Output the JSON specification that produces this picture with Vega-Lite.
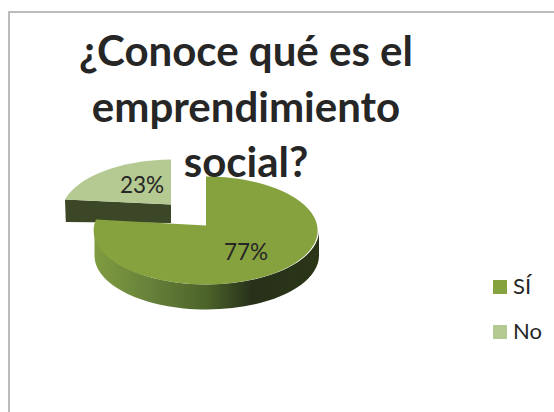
{
"$schema":"https://vega.github.io/schema/vega-lite/v6.json",
"width":560,"height":420,
"autosize":{"type":"none"},
"padding":{"left":9,"top":12,"right":-15,"bottom":-20},
"background":"white",
"view":{"stroke":"#a6a6a6","strokeWidth":1.5,"fill":"white"},
"title":{"text":["¿Conoce qué es el","emprendimiento","social?"],"font":"Lato","fontWeight":"bold","fontSize":42,"lineHeight":55.5,"color":"#262626","anchor":"middle","frame":"group","orient":"top","baseline":"top","offset":-174,"dx":-43},
"data":{"values":[{"category":"SÍ","value":0.77},{"category":"No","value":0.23}]},
"config":{"font":"Lato"},
"layer":[
{"transform":[{"filter":"datum.category==='No'"}],
 "mark":{"type":"point","shape":"M-224 -22.5L-118 -17.5L-118 1L-223.2 0Z","size":4,"filled":true,"opacity":1,"fill":"#3b4726","stroke":null},"encoding":{}},
{"transform":[{"filter":"datum.category==='No'"}],
 "mark":{"type":"point","shape":"M-118 -17.5L-224 -22.5A112 54 0 0 1 -118 -62.5Z","size":4,"filled":true,"opacity":1,"stroke":null},
 "encoding":{"color":{"field":"category","type":"nominal","sort":null,"title":null,
   "scale":{"domain":["SÍ","No"],"range":["#86a23f","#b5ca92"]},
   "legend":{"orient":"none","legendX":480,"legendY":264,"padding":0,"symbolType":"square","symbolSize":196,"symbolStrokeWidth":0,"labelFontSize":22,"labelFont":"Lato","labelColor":"#262626","labelOffset":2,"rowPadding":23,"title":null}}}},
{"transform":[{"filter":"datum.category==='SÍ'"}],
 "mark":{"type":"point","shape":"M30 8.5A112.25 54 0 0 1 -194.5 8.5L-194.5 33.5A112.25 54 0 0 0 30 33.5Z","size":4,"filled":true,"opacity":1,"stroke":null,
   "fill":{"gradient":"linear","x1":1,"x2":0,"y1":0,"y2":0,"stops":[{"offset":0,"color":"#2a3516"},{"offset":0.3,"color":"#27311a"},{"offset":0.5,"color":"#4c6329"},{"offset":0.75,"color":"#66813a"},{"offset":1,"color":"#7f9c40"}]}},"encoding":{}},
{"transform":[{"filter":"datum.category==='SÍ'"}],
 "mark":{"type":"point","shape":"M-83 3.5L-83 -45.5A112 54 0 1 1 -193 -2.5Z","size":4,"filled":true,"opacity":1,"stroke":null},
 "encoding":{"color":{"field":"category","type":"nominal","sort":null}}},
{"transform":[{"filter":"datum.category==='SÍ'"}],
 "mark":{"type":"text","dx":-43,"dy":30.5,"fontSize":22.5,"font":"Lato","color":"#262626"},
 "encoding":{"text":{"field":"value","type":"quantitative","format":".0%"}}},
{"transform":[{"filter":"datum.category==='No'"}],
 "mark":{"type":"text","dx":-147,"dy":-36,"fontSize":22.5,"font":"Lato","color":"#262626"},
 "encoding":{"text":{"field":"value","type":"quantitative","format":".0%"}}}
]
}
